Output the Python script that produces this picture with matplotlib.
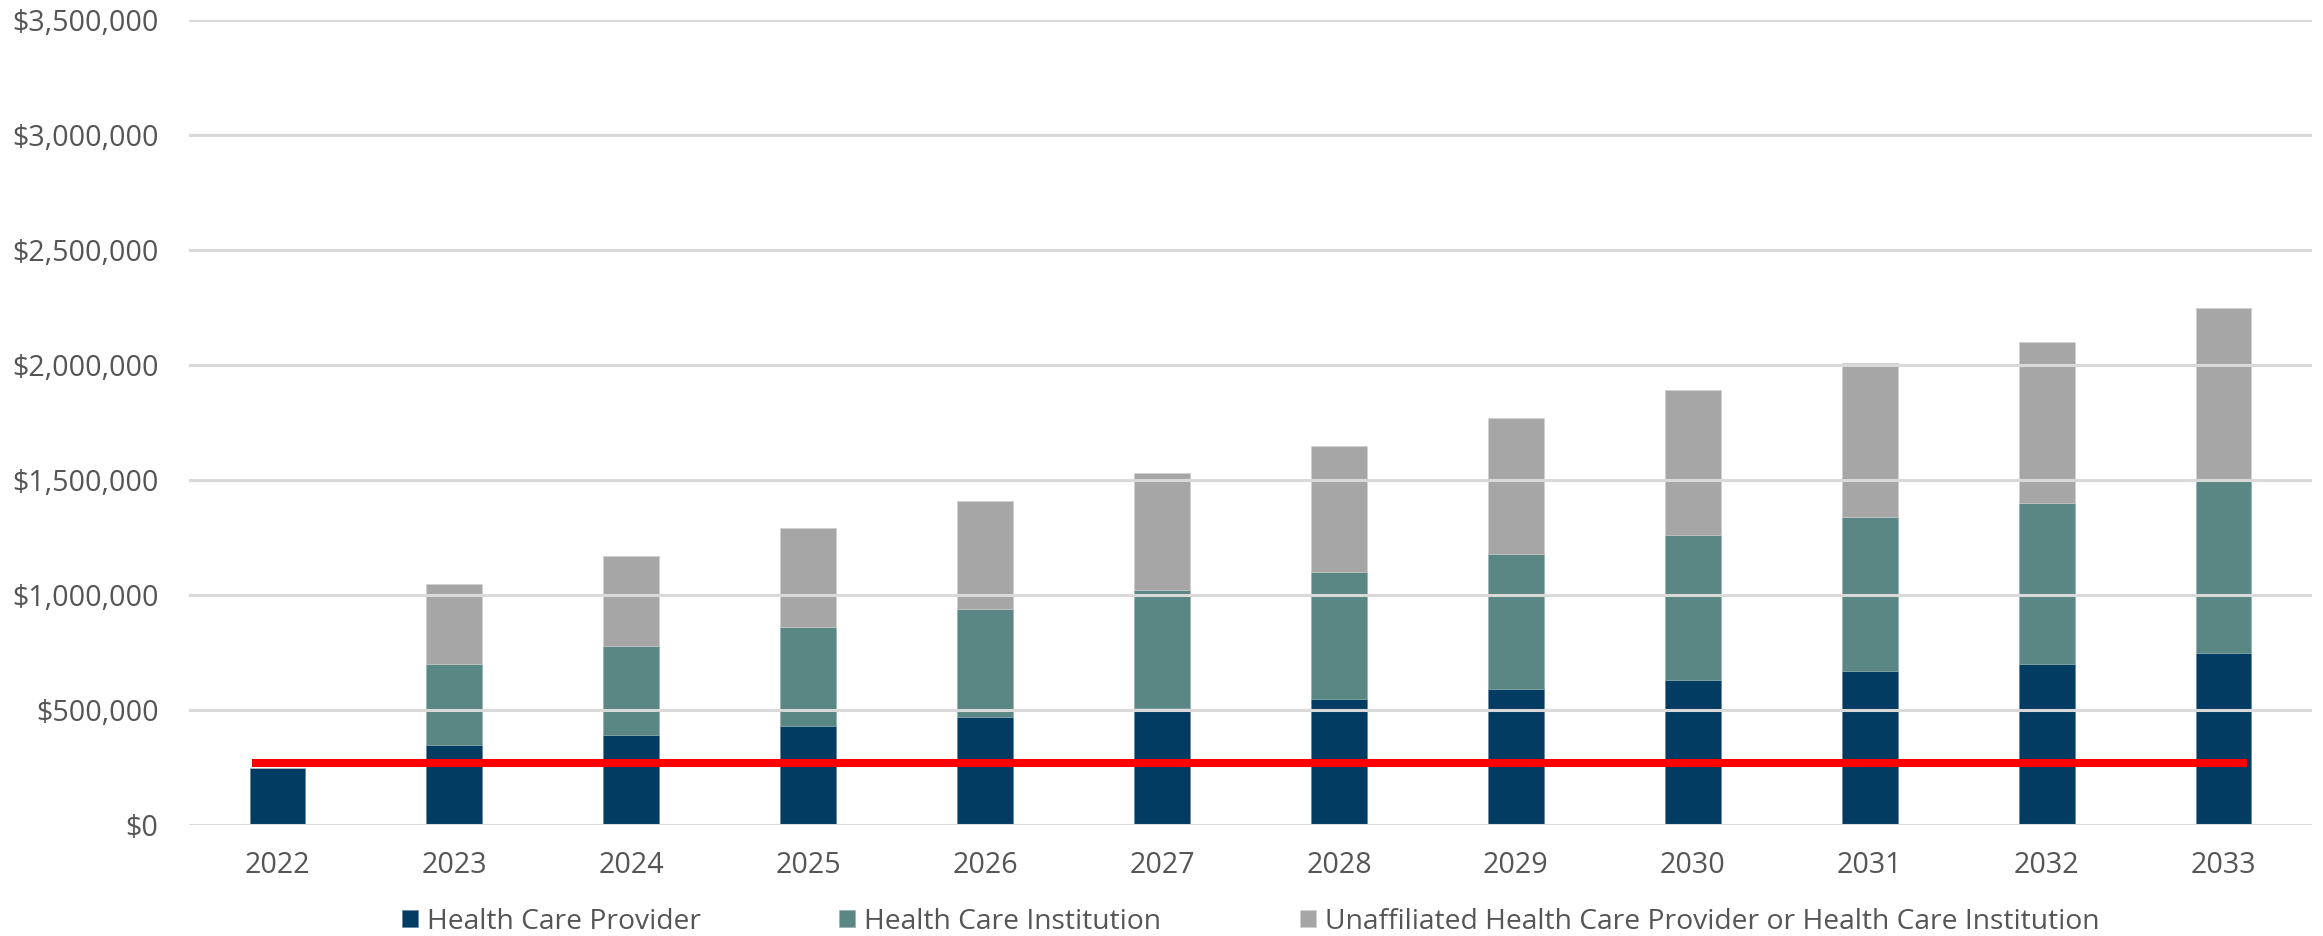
import numpy as np
import matplotlib
matplotlib.use("Agg")
import matplotlib.pyplot as plt
from matplotlib.ticker import FuncFormatter

plt.rcParams['font.family'] = ['Open Sans', 'DejaVu Sans']

# yearly cost by entity type
years = ['2022', '2023', '2024', '2025', '2026', '2027', '2028', '2029', '2030', '2031', '2032', '2033']
provider = [250000, 350000, 390000, 430000, 470000, 510000, 550000, 590000, 630000, 670000, 700000, 750000]
institution = [0, 350000, 390000, 430000, 470000, 510000, 550000, 590000, 630000, 670000, 700000, 750000]
unaffiliated = [0, 350000, 390000, 430000, 470000, 510000, 550000, 590000, 630000, 670000, 700000, 750000]
threshold = 270000

c_provider = '#033C63'
c_institution = '#5A8783'
c_unaff = '#A6A6A6'
text_color = '#555555'

fig = plt.figure(figsize=(23.23, 9.36), dpi=100)
ax = fig.add_axes([189/2323, 1 - 825/936, (2312 - 189)/2323, (825 - 20)/936])

x = np.arange(len(years))
w = 0.316
provider = np.array(provider)
institution = np.array(institution)
unaffiliated = np.array(unaffiliated)

ax.bar(x, provider, w, color=c_provider, label='Health Care Provider', zorder=2,
       edgecolor='#5f7f99', linewidth=0.4)
ax.bar(x, institution, w, bottom=provider, color=c_institution, label='Health Care Institution',
       zorder=2, edgecolor='#8fb0ad', linewidth=0.4)
ax.bar(x, unaffiliated, w, bottom=provider + institution, color=c_unaff,
       label='Unaffiliated Health Care Provider or Health Care Institution', zorder=2,
       edgecolor='#cfcfcf', linewidth=0.4)

# threshold line across the bars
ax.hlines(threshold, -0.145, 11.13, color='#FF0000', linewidth=5.8, zorder=4)

ax.set_xlim(-0.5, len(years) - 0.5)
ax.set_ylim(0, 3500000)
ax.set_yticks(np.arange(0, 3500001, 500000))
ax.yaxis.set_major_formatter(FuncFormatter(lambda v, p: f'${v:,.0f}'))
ax.set_xticks(x)
ax.set_xticklabels(years)

ax.grid(axis='y', color='#D9D9D9', linewidth=2.2, zorder=3)
ax.set_axisbelow(False)
for sp in ax.spines.values():
    sp.set_visible(False)
ax.tick_params(axis='both', length=0, labelsize=20.6, labelcolor=text_color)
ax.tick_params(axis='y', pad=22)
ax.tick_params(axis='x', pad=19)
for gl in ax.get_ygridlines():
    gl.set_zorder(3)

leg = ax.legend(loc='center', bbox_to_anchor=(0.5, -0.12), ncol=3, frameon=False,
                fontsize=20.3, handlelength=0.58, handleheight=0.58, handletextpad=0.32,
                columnspacing=4.9, labelcolor=text_color)

fig.savefig('out.png', dpi=100)
